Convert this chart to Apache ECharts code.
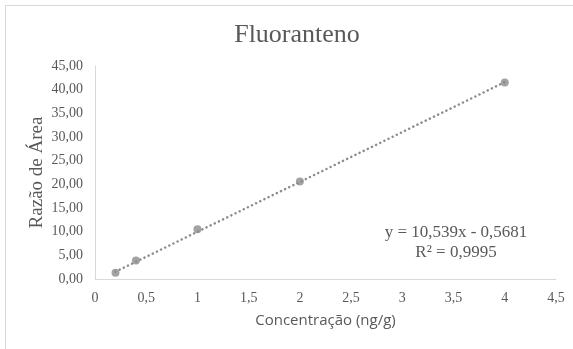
<!DOCTYPE html>
<html>
<head>
<meta charset="utf-8">
<script src="https://cdn.jsdelivr.net/npm/echarts@6/dist/echarts.min.js"></script>
<style>
  html, body { margin: 0; padding: 0; background: #fff; }
  #chart { width: 573px; height: 349px; }
  #frame { position: absolute; left: 5px; top: 5px; width: 600px; height: 400px; border: 1px solid #d9d9d9; pointer-events: none; }
</style>
</head>
<body>
<div id="chart"></div>
<div id="frame"></div>
<script>
// Calibration points: concentration (ng/g) vs area ratio
const concentrations = [0.2, 0.4, 1, 2, 4];
const areaRatios = [1.3, 3.9, 10.5, 20.6, 41.5];

// Linear fit reported on the chart
const slope = 10.539;
const intercept = -0.5681;
const rSquared = 0.9995;

const xTicks = [0, 0.5, 1, 1.5, 2, 2.5, 3, 3.5, 4, 4.5];
const yTicks = [0, 5, 10, 15, 20, 25, 30, 35, 40, 45];

const fmt = (v, d) => v.toFixed(d).replace('.', ',');
const trendX = [concentrations[0], concentrations[concentrations.length - 1]];
const trend = trendX.map(x => [x, slope * x + intercept]);

const serif = '"Liberation Serif", "Times New Roman", serif';
const textColor = '#595959';

const chart = echarts.init(document.getElementById('chart'), null, { renderer: 'canvas' });
chart.setOption({
  animation: false,
  backgroundColor: '#fff',
  title: {
    text: 'Fluoranteno',
    left: 292, top: 17, textAlign: 'center',
    textStyle: { fontFamily: serif, fontSize: 26, fontWeight: 'normal', color: textColor }
  },
  grid: { left: 95, right: 17, top: 66, bottom: 70 },
  xAxis: {
    type: 'value',
    min: xTicks[0], max: xTicks[xTicks.length - 1], interval: 0.5,
    name: 'Concentração (ng/g)',
    nameLocation: 'middle', nameGap: 34, nameMoveOverlap: false,
    nameTextStyle: { fontFamily: '"Open Sans", sans-serif', fontSize: 15, color: textColor },
    axisLine: { lineStyle: { color: '#d9d9d9', width: 1 } },
    axisTick: { show: false },
    splitLine: { show: false },
    axisLabel: {
      fontFamily: serif, fontSize: 14, color: textColor, margin: 12,
      formatter: v => String(v).replace('.', ',')
    }
  },
  yAxis: {
    type: 'value',
    min: yTicks[0], max: yTicks[yTicks.length - 1], interval: 5,
    name: 'Razão de Área',
    nameLocation: 'middle', nameGap: 48, nameRotate: 90, nameMoveOverlap: false,
    nameTextStyle: { fontFamily: serif, fontSize: 19, color: textColor },
    axisLine: { show: true, lineStyle: { color: '#d9d9d9', width: 1 } },
    axisTick: { show: false },
    splitLine: { show: false },
    axisLabel: {
      fontFamily: serif, fontSize: 14, color: textColor, margin: 12,
      formatter: v => fmt(v, 2)
    }
  },
  series: [
    {
      type: 'line',
      data: trend,
      showSymbol: false,
      lineStyle: { color: '#8c8c8c', width: 2.5, type: [0.1, 4.5], cap: 'round' },
      z: 2,
      silent: true
    },
    {
      type: 'scatter',
      data: concentrations.map((x, i) => [x, areaRatios[i]]),
      symbol: 'circle',
      symbolSize: 8,
      itemStyle: { color: '#8c8c8c' },
      z: 3
    }
  ],
  graphic: [
    {
      type: 'text',
      x: 456, y: 223,
      style: {
        text: 'y = ' + fmt(slope, 3) + 'x - ' + fmt(-intercept, 4) + '\nR² = ' + fmt(rSquared, 4),
        font: '17px ' + serif,
        fill: textColor,
        align: 'center',
        lineHeight: 20
      }
    }
  ]
});
</script>
</body>
</html>
